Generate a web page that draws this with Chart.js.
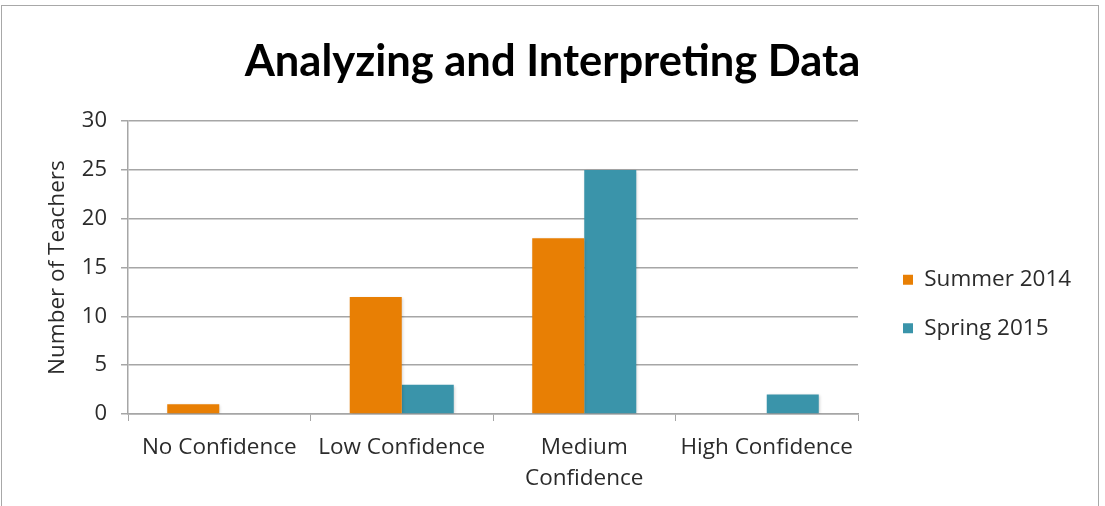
<!DOCTYPE html>
<html>
<head>
<meta charset="utf-8">
<script src="https://cdn.jsdelivr.net/npm/chart.js@4.4.1/dist/chart.umd.min.js"></script>
<style>
  html, body { margin: 0; padding: 0; background: #fff; }
  #frame {
    position: absolute; left: 1px; top: 5px; width: 1098px; height: 520px;
    border: 1px solid #a8a8a8; box-sizing: border-box;
  }
  #wrap { position: absolute; left: 0; top: 0; width: 1105px; height: 506px; }
</style>
</head>
<body>
<div id="frame"></div>
<div id="wrap"><canvas id="chart" width="1105" height="506"></canvas></div>
<script>
// Confidence levels reported by teachers
const categories = ['No Confidence', 'Low Confidence', ['Medium', 'Confidence'], 'High Confidence'];
const seriesNames = ['Summer 2014', 'Spring 2015'];
const summer2014 = [1, 12, 18, 0];
const spring2015 = [0, 3, 25, 2];
const yTicks = [0, 5, 10, 15, 20, 25, 30];

const ORANGE = '#E87F04';
const TEAL = '#3A94AA';
const GRID = '#a6a6a6';
const TEXT = '#2b2b2b';
const LABEL_FONT = 'Open Sans';
const LEGEND_WIDTH = 247;

// Soft drop shadow behind the bars
const barShadow = {
  id: 'barShadow',
  beforeDatasetsDraw(chart) {
    const ctx = chart.ctx;
    ctx.save();
    ctx.shadowColor = 'rgba(0,0,0,0.22)';
    ctx.shadowBlur = 3;
    ctx.shadowOffsetX = 1;
    ctx.shadowOffsetY = 1;
  },
  afterDatasetsDraw(chart) {
    chart.ctx.restore();
  }
};

// Reserve a fixed-width column for the legend, then nudge its items
// a little right of the plot and lower down
const legendPlacement = {
  id: 'legendPlacement',
  beforeLayout(chart) {
    const lg = chart.legend;
    if (lg && !lg._fixedWidth) {
      const fit = lg.fit;
      lg.fit = function () { fit.call(this); this.width = LEGEND_WIDTH; };
      lg._fixedWidth = true;
    }
  },
  afterLayout(chart) {
    const lg = chart.legend;
    if (!lg) return;
    const pad = chart.options.plugins.legend.labels.padding;
    const dx = (903 - pad) - lg.left;
    const dy = 33;
    lg.left += dx; lg.right += dx;
    lg.top += dy; lg.bottom += dy;
  }
};

new Chart(document.getElementById('chart'), {
  type: 'bar',
  data: {
    labels: categories,
    datasets: [
      { label: seriesNames[0], data: summer2014, backgroundColor: ORANGE },
      { label: seriesNames[1], data: spring2015, backgroundColor: TEAL }
    ]
  },
  plugins: [barShadow, legendPlacement],
  options: {
    responsive: false,
    animation: false,
    layout: { padding: { left: 0, right: 0, top: 36, bottom: 0 } },
    datasets: { bar: { categoryPercentage: 0.57, barPercentage: 1.0 } },
    plugins: {
      title: {
        display: true,
        text: 'Analyzing and Interpreting Data',
        color: '#000',
        font: { family: 'Lato', size: 43.5, weight: 'bold', lineHeight: 1.2 },
        padding: { top: 0, bottom: 33 },
        align: 'center'
      },
      legend: {
        position: 'right',
        labels: {
          boxWidth: 10,
          boxHeight: 10,
          padding: 26,
          color: TEXT,
          font: { family: LABEL_FONT, size: 22.5 }
        }
      },
      tooltip: { enabled: false }
    },
    scales: {
      x: {
        afterFit(axis) { axis.height = 92; },
        grid: { display: true, drawOnChartArea: false, offset: true, tickLength: 7, color: GRID },
        border: { color: GRID, width: 1.5 },
        ticks: { color: TEXT, font: { family: LABEL_FONT, size: 22.5, lineHeight: 1.38 }, maxRotation: 0, padding: 11 }
      },
      y: {
        min: 0,
        max: 30,
        afterFit(axis) { axis.width = 128; },
        afterBuildTicks(axis) { axis.ticks = yTicks.map(v => ({ value: v })); },
        grid: { color: GRID, lineWidth: 1.5, tickLength: 7 },
        border: { color: GRID, width: 1.5 },
        ticks: { color: TEXT, font: { family: LABEL_FONT, size: 22 }, padding: 14 },
        title: {
          display: true,
          text: 'Number of Teachers',
          color: TEXT,
          font: { family: LABEL_FONT, size: 22.5, lineHeight: 1.2 },
          padding: { top: 44, bottom: 0 }
        }
      }
    }
  }
});
</script>
</body>
</html>
